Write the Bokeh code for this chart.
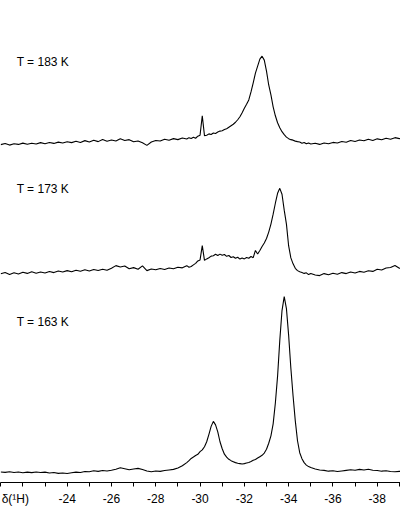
from bokeh.plotting import figure
from bokeh.models import Range1d, FixedTicker, Label, ColumnDataSource
from bokeh.embed import file_html
from bokeh.resources import INLINE

# ---------------- data ----------------
# chemical shift grid, ppm
PPM = [
    -21.0, -21.2, -21.4, -21.6, -21.8, -22.0, -22.2, -22.4, -22.6, -22.8,
    -23.0, -23.2, -23.4, -23.6, -23.8, -24.0, -24.2, -24.4, -24.6, -24.8,
    -25.0, -25.2, -25.4, -25.6, -25.8, -26.0, -26.2, -26.4, -26.6, -26.8,
    -27.0, -27.2, -27.4, -27.6, -27.8, -28.0, -28.2, -28.4, -28.6, -28.8,
    -29.0, -29.2, -29.4,
    -29.5, -29.6, -29.7, -29.8, -29.9, -30.0, -30.1, -30.2, -30.3, -30.4,
    -30.5, -30.6, -30.7, -30.8, -30.9, -31.0, -31.1, -31.2, -31.3, -31.4,
    -31.5, -31.6, -31.7, -31.8, -31.9, -32.0, -32.1, -32.2, -32.3, -32.4,
    -32.5, -32.6, -32.7, -32.8, -32.9, -33.0, -33.1, -33.2, -33.3, -33.4,
    -33.5, -33.6, -33.7, -33.8, -33.9, -34.0, -34.1, -34.2, -34.3, -34.4,
    -34.5, -34.6, -34.7, -34.8, -34.9, -35.0,
    -35.2, -35.4, -35.6, -35.8, -36.0, -36.2, -36.4, -36.6, -36.8, -37.0,
    -37.2, -37.4, -37.6, -37.8, -38.0, -38.2, -38.4, -38.6, -38.8, -39.0,
    -39.2,
]

# intensities (arbitrary units) for each temperature
I_183K = [
    0.0, 1.2, -0.5, 0.8, 0.2, 1.5, 0.3, 1.4, 0.6, 2.0,
    0.9, 2.2, 1.2, 2.5, 1.6, 2.9, 2.0, 3.3, 2.2, 4.0,
    2.6, 4.3, 3.0, 5.2, 3.4, 4.6, 3.6, 5.8, 4.2, 5.0,
    2.8, 3.6, 1.8, -0.8, 2.6, 4.2, 3.6, 5.4, 4.4, 6.0,
    5.0, 6.6, 5.6,
    7.0, 6.2, 7.4, 6.4, 8.5, 9.5, 29.0, 9.0, 9.5, 10.8,
    10.2, 11.6, 11.2, 12.6, 13.6, 14.0, 15.2, 16.0, 17.5, 19.0,
    20.5, 22.5, 25.0, 28.0, 32.0, 36.5, 40.5, 45.0, 53.0, 62.0,
    72.0, 79.0, 86.0, 89.0, 85.0, 74.0, 60.0, 50.0, 38.0, 29.0,
    22.0, 17.0, 13.0, 10.0, 7.5, 6.0, 5.0, 4.5, 3.5, 3.0,
    2.6, 1.4, 2.2, 0.8, 1.6, 0.6,
    1.4, 0.2, 1.6, 0.8, 2.2, 1.6, 3.2, 2.4, 4.2, 3.2,
    4.6, 3.8, 5.4, 4.2, 5.8, 4.8, 6.4, 5.4, 7.0, 6.0,
    6.8,
]

I_173K = [
    0.0, 1.4, -0.6, 1.0, -0.2, 1.6, 0.4, 2.0, 0.6, 1.8,
    0.8, 2.4, 1.2, 2.8, 1.8, 3.2, 2.0, 3.6, 2.6, 4.0,
    2.8, 4.4, 3.4, 4.6, 3.6, 5.6, 8.2, 6.8, 7.8, 5.0,
    6.2, 4.6, 8.0, 3.2, 4.8, 4.0, 5.4, 4.4, 5.8, 5.0,
    6.6, 6.0, 8.2,
    6.6, 7.4, 9.0, 10.5, 13.0, 14.0, 28.3, 13.5, 15.0, 16.2,
    17.8, 18.2, 19.6, 18.4, 19.8, 18.6, 19.4, 17.6, 18.4, 16.4,
    17.2, 15.6, 16.6, 14.8, 16.0, 15.0, 16.4, 15.6, 17.4, 16.2,
    23.5, 20.0, 23.5, 27.5, 31.0, 35.5, 42.0, 50.0, 60.0, 71.0,
    81.0, 86.0, 80.0, 64.0, 50.0, 28.0, 16.0, 10.0, 5.5, 3.2,
    2.0, 1.2, 0.4, 1.0, -0.8, 0.4,
    -1.2, -1.8, 0.2, -1.0, 0.6, -0.4, 1.2, 0.2, 1.8, 0.8,
    2.4, 1.6, 3.0, 2.4, 4.6, 3.8, 5.8, 6.4, 8.4, 5.6,
    6.0,
]

I_163K = [
    0.6, 0.2, 0.8, 0.0, 0.5, -0.2, 0.4, -0.1, 0.6, 0.0,
    0.4, -0.4, 0.0, -0.8, -0.4, -1.0, -0.2, 0.4, 0.0, 1.0,
    0.8, 1.8, 1.2, 2.0, 1.6, 2.4, 3.4, 4.8, 3.8, 2.8,
    3.6, 4.2, 3.0, 1.6, 0.8, 1.6, 1.2, 2.0, 2.6, 3.2,
    4.6, 6.8, 10.0,
    12.0, 14.2, 15.6, 17.2, 18.4, 21.0, 22.8, 26.0, 31.0, 38.5,
    46.5, 51.5, 48.0, 41.0, 31.0, 24.0, 18.5, 15.5, 13.3, 12.0,
    11.0, 10.0, 9.4, 9.0, 8.6, 9.0, 9.6, 10.2, 11.2, 12.4,
    13.2, 14.6, 16.0, 17.4, 19.6, 23.5, 29.5, 37.0, 49.0, 70.0,
    97.0, 133.0, 163.0, 177.0, 165.0, 138.0, 105.0, 77.0, 52.0, 32.0,
    20.0, 14.0, 10.0, 7.5, 6.0, 5.0,
    3.6, 2.6, 2.2, 1.4, 1.8, 1.0, 1.6, 2.2, 2.8, 2.4,
    3.2, 2.6, 3.4, 2.4, 2.0, 1.4, 1.8, 1.0, 0.8, 1.2,
    1.0,
]

LABELS = ["T = 183 K", "T = 173 K", "T = 163 K"]
LABELED_TICKS = [-24, -26, -28, -30, -32, -34, -36, -38]
TICK_LABELS = ["-24", "-26", "-28", "-30", "-32", "-34", "-36", "-38"]
TICK_MARKS = [-21, -22, -23, -24, -25, -26, -27, -28, -29, -30,
              -31, -32, -33, -34, -35, -36, -37, -38, -39]
AXIS_TITLE = "δ(¹H)"
AXIS_TITLE_POS = -21.66   # sits in the tick-label row, at the left end

# ---------------- layout ----------------
X_LEFT, X_RIGHT = -20.99, -39.05
OFFSETS = [340, 210, 10]          # vertical stacking of the traces
LABEL_Y = [423, 295, 162]
FONT = "Liberation Sans"

p = figure(width=400, height=508,
           x_range=Range1d(X_LEFT, X_RIGHT), y_range=Range1d(0, 485),
           output_backend="svg", toolbar_location=None,
           y_axis_location=None,
           min_border_left=0, min_border_right=0,
           min_border_top=0, min_border_bottom=0)
p.xgrid.visible = False
p.ygrid.visible = False
p.outline_line_color = None
p.background_fill_color = "white"
p.border_fill_color = "white"

for series, off in zip([I_183K, I_173K, I_163K], OFFSETS):
    src = ColumnDataSource(dict(x=PPM, y=[v + off for v in series]))
    p.line("x", "y", source=src, line_color="black", line_width=1.1)

for txt, ly in zip(LABELS, LABEL_Y):
    p.add_layout(Label(x=-21.72, y=ly, text=txt, text_font=FONT,
                       text_font_size="12px", text_color="black",
                       text_baseline="middle", text_align="left"))

overrides = {t: s for t, s in zip(LABELED_TICKS, TICK_LABELS)}
overrides[AXIS_TITLE_POS] = AXIS_TITLE

ax = p.xaxis[0]
ax.ticker = FixedTicker(ticks=LABELED_TICKS + [AXIS_TITLE_POS],
                        minor_ticks=TICK_MARKS)
ax.major_label_overrides = overrides
ax.axis_line_color = "black"
ax.axis_line_width = 1
ax.major_tick_line_color = None
ax.major_tick_in = 0
ax.major_tick_out = 4
ax.minor_tick_line_color = "black"
ax.minor_tick_in = 0
ax.minor_tick_out = 4
ax.major_label_text_font = FONT
ax.major_label_text_font_size = "12px"
ax.major_label_text_color = "black"
ax.major_label_standoff = 5

open("out.html", "w").write(file_html(p, INLINE))
